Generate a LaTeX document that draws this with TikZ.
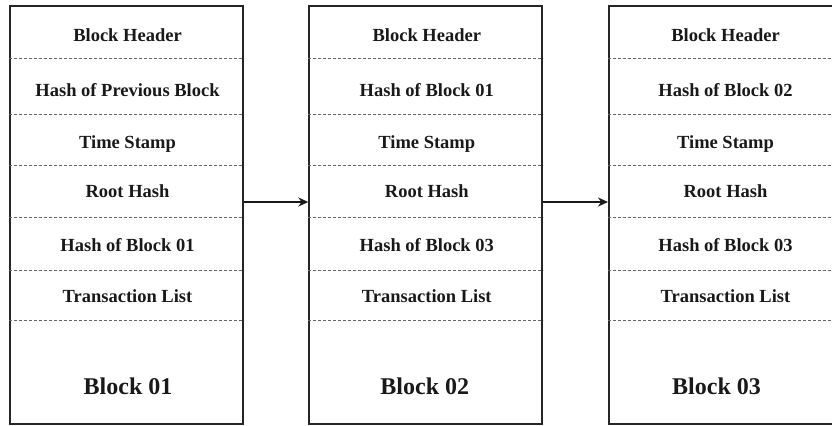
\documentclass[tikz,border=0pt]{standalone}
\usepackage{fontspec}
\setmainfont{Liberation Serif}
\usetikzlibrary{arrows.meta,calc}
\begin{document}
\begin{tikzpicture}[x=1bp,y=-1bp,
  blockbox/.style={draw=black!85, line width=2bp, minimum width=233bp,
    minimum height=418bp, anchor=north west, inner sep=0pt},
  sepline/.style={draw=black!60, line width=0.9bp, dash pattern=on 3bp off 2bp},
  field/.style={anchor=base, inner sep=0pt, text=black!90,
    font=\bfseries\fontsize{18.5bp}{20bp}\selectfont},
  blocktitle/.style={anchor=base, inner sep=0pt, text=black!90,
    font=\bfseries\fontsize{24bp}{26bp}\selectfont},
  link/.style={draw=black!90, line width=2bp, -{Stealth[length=10bp,width=9bp]}}]
\useasboundingbox (0,0) rectangle (832,425);
\clip (0,0) rectangle (832,425);

% the three blocks of the chain
\node[blockbox] (b1) at (8.5,5) {};
\node[blockbox] (b2) at (308.3,5) {};
\node[blockbox] (b3) at (608,5) {};

% dashed separators between the header fields
\foreach \b in {b1,b2,b3}{
  \foreach \y in {58,114,165.3,217.7,270,320.7}{
    \draw[sepline] (\b.west |- 0,\y) -- (\b.east |- 0,\y);
  }
}

% block 01
\node[field] (b1h) at ($(b1.north)+(1.5,36.7)$) {Block Header};
\node[field] (b1p) at ($(b1.north)+(1.5,91.7)$) {Hash of Previous Block};
\node[field] (b1t) at ($(b1.north)+(1.5,143.3)$) {Time Stamp};
\node[field] (b1r) at ($(b1.north)+(1.5,192.7)$) {Root Hash};
\node[field] (b1n) at ($(b1.north)+(1.5,246.7)$) {Hash of Block 01};
\node[field] (b1l) at ($(b1.north)+(1.5,297.3)$) {Transaction List};
\node[blocktitle] (b1name) at ($(b1.north)+(2,389.3)$) {Block 01};

% block 02
\node[field] (b2h) at ($(b2.north)+(1,36.7)$) {Block Header};
\node[field] (b2p) at ($(b2.north)+(1,91.7)$) {Hash of Block 01};
\node[field] (b2t) at ($(b2.north)+(1,143.3)$) {Time Stamp};
\node[field] (b2r) at ($(b2.north)+(1,192.7)$) {Root Hash};
\node[field] (b2n) at ($(b2.north)+(1,246.7)$) {Hash of Block 03};
\node[field] (b2l) at ($(b2.north)+(1,297.3)$) {Transaction List};
\node[blocktitle] (b2name) at ($(b2.north)+(-1,389.3)$) {Block 02};

% block 03
\node[field] (b3h) at ($(b3.north)+(0,36.7)$) {Block Header};
\node[field] (b3p) at ($(b3.north)+(0,91.7)$) {Hash of Block 02};
\node[field] (b3t) at ($(b3.north)+(0,143.3)$) {Time Stamp};
\node[field] (b3r) at ($(b3.north)+(0,192.7)$) {Root Hash};
\node[field] (b3n) at ($(b3.north)+(0,246.7)$) {Hash of Block 03};
\node[field] (b3l) at ($(b3.north)+(0,297.3)$) {Transaction List};
\node[blocktitle] (b3name) at ($(b3.north)+(-9,389.3)$) {Block 03};

% links between consecutive blocks
\draw[link] ([yshift=13bp]b1.east) -- ([yshift=13bp]b2.west);
\draw[link] ([yshift=13bp]b2.east) -- ([yshift=13bp]b3.west);
\end{tikzpicture}
\end{document}
